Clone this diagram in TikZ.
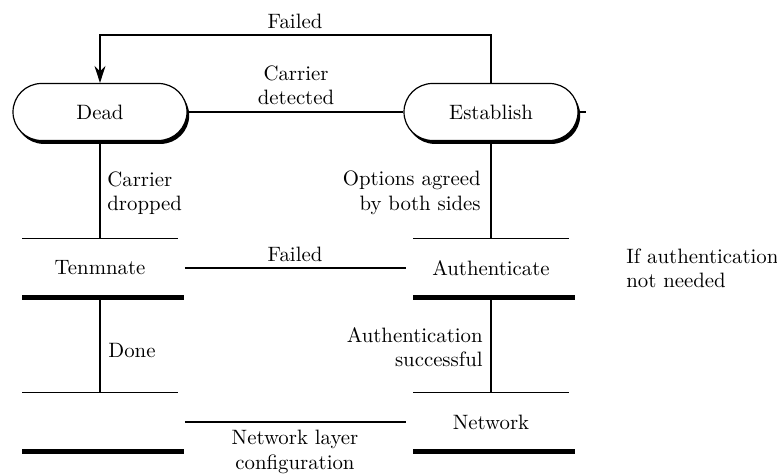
\documentclass[tikz,border=0pt]{standalone}
\usetikzlibrary{calc}
\usetikzlibrary{positioning}
\usetikzlibrary{arrows.meta, shapes.misc, shadows}

\begin{document}
\begin{tikzpicture}[
  x=0.5pt,y=-0.5pt,
  font=\fontsize{10.4}{12.2}\selectfont,
  pill/.style={rounded rectangle,draw=black,line width=0.6pt,fill=white,
    minimum width=87pt,minimum height=28.5pt,inner sep=0pt,
    drop shadow={shadow xshift=1.1pt,shadow yshift=-1.7pt,fill=black,opacity=1}},
  state/.style={minimum width=77.5pt,minimum height=29pt,inner sep=0pt},
  bar/.style={draw=black,line width=0.85pt},
  thickbar/.style={draw=black,line width=2.4pt},
  leg/.style={draw=black,line width=1.4pt},
  wire/.style={draw=black,line width=0.75pt},
  gap/.style={shorten <=3.5pt,shorten >=3.5pt},
  lbl/.style={inner sep=0pt}
]
  \useasboundingbox (0,0) rectangle (777,475);

  % Rounded states
  \node[pill] (dead) at (100,112) {Dead};
  \node[pill] (establish) at (491,112) {Establish};

  % Bar states
  \node[state] (terminate) at (100,268) {Tenmnate};
  \node[state] (authenticate) at (491,268) {Authenticate};
  \node[state] (open) at (100,422) {};
  \node[state] (network) at (491,422) {Network};

  \foreach \s in {terminate,authenticate,open,network} {
    \draw[bar] (\s.north west) -- (\s.north east);
    \draw[thickbar] (\s.south west) -- ($(\s.south east)+(6,0)$);
  }

  % Transitions
  \draw[wire,-{Stealth[length=8.5pt,width=5.5pt]}]
    (establish.north) -- ++(0,-48) -| (dead.north);
  \draw[wire] (dead.east) -- (establish.west);
  \coordinate[right=3.5pt of establish.east] (stub);
  \draw[wire] (establish.east) -- (stub);
  \draw[leg] (dead.south) -- (terminate.north);
  \draw[leg] (establish.south) -- (authenticate.north);
  \draw[leg] (terminate.south) -- (open.north);
  \draw[leg] (authenticate.south) -- (network.north);
  \draw[leg,gap] (terminate.east) -- (authenticate.west);
  \draw[leg,gap] (open.east) -- (network.west);

  % Labels
  \node[lbl] (lfailtop) at (295,21) {Failed};
  \node[lbl,align=center] (ldetect) at (296,85) {Carrier\\detected};
  \node[lbl,align=left,anchor=west] (ldrop) at (107,193) {Carrier\\dropped};
  \node[lbl,align=right,anchor=east] (lagree) at (481,193) {Options agreed\\by both sides};
  \node[lbl] (lfailmid) at (295,254) {Failed};
  \node[lbl,anchor=west] (ldone) at (108,351) {Done};
  \node[lbl,align=right,anchor=east] (lauth) at (483,347) {Authentication\\successful};
  \node[lbl,align=center] (lconfig) at (295,452) {Network layer\\configuration};
  \node[lbl,align=left,anchor=west] (lskip) at (626,268) {If authentication\\not needed};
\end{tikzpicture}
\end{document}
